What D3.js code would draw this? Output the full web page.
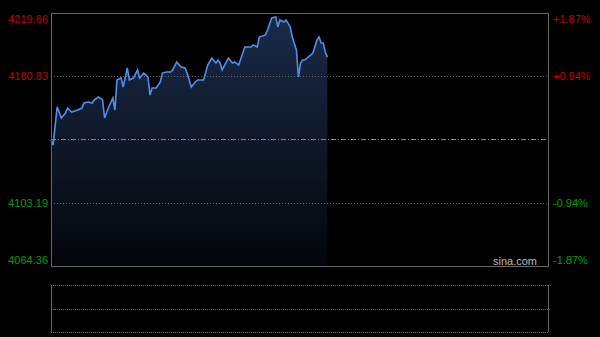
<!DOCTYPE html>
<html>
<head>
<meta charset="utf-8">
<script src="https://cdn.jsdelivr.net/npm/d3@7"></script>
<style>
  body { margin: 0; background: #000; }
  svg { display: block; font-family: "Liberation Sans", Arial, sans-serif; }
</style>
</head>
<body>
<script>
// chart size
var svgWidth = 600;
var svgHeight = 337;

// price panel and volume panel edges
var panel = { left: 51, right: 548, top: 13, bottom: 266 };
var volPanel = { top: 285, bottom: 332 };

// data: minute index since open and price
var minutes = [0, 1, 3, 5, 7, 8, 10, 13, 15, 16, 18, 20, 21, 23, 25, 26, 28, 30, 31, 32,
  34, 35, 37, 38, 40, 42, 43, 45, 47, 48, 49, 51, 53, 54, 56, 58, 59, 61, 63, 65,
  66, 68, 70, 71, 74, 76, 78, 80, 81, 82, 83, 86, 88, 89, 91, 93, 94, 97, 98, 100,
  101, 104, 105, 107, 109, 110, 111, 113, 114, 116, 117, 119, 120, 121, 122, 123, 126, 127, 129, 130,
  131, 132, 133, 134];
var prices = [4141.7, 4138.6, 4162.0, 4155.2, 4158.3, 4161.3, 4158.9, 4160.1, 4161.3, 4164.4,
  4165.0, 4164.4, 4166.3, 4168.1, 4166.3, 4155.2, 4162.0, 4167.5, 4160.1, 4178.5,
  4179.8, 4174.2, 4185.9, 4178.5, 4179.8, 4184.7, 4179.8, 4182.8, 4180.4, 4169.3,
  4173.6, 4173.6, 4177.3, 4182.8, 4183.4, 4183.4, 4184.7, 4189.6, 4186.5, 4185.9,
  4182.8, 4174.2, 4177.3, 4178.5, 4178.5, 4187.7, 4192.0, 4189.0, 4190.8, 4189.0,
  4184.7, 4192.0, 4189.0, 4189.6, 4187.7, 4195.1, 4198.8, 4198.8, 4200.0, 4198.8,
  4204.9, 4206.2, 4209.2, 4216.6, 4217.2, 4211.1, 4215.4, 4214.1, 4215.4, 4211.1,
  4204.9, 4197.0, 4180.4, 4189.0, 4190.8, 4190.8, 4193.9, 4195.1, 4203.1, 4204.9,
  4201.2, 4201.2, 4195.7, 4192.6];

// axis labels
var priceTicks = [4219.66, 4180.83, 4103.19, 4064.36];
var pctTicks = ["+1.87%", "+0.94%", "-0.94%", "-1.87%"];
var prevClose = 4142.01;
var totalMinutes = 241;

var data = minutes.map((m, i) => ({ m: m, p: prices[i] }));

var svg = d3.select("body")
  .append("svg")
  .attr("width", svgWidth)
  .attr("height", svgHeight);

var xScale = d3.scaleLinear()
  .domain([0, totalMinutes])
  .range([panel.left, panel.right]);

var yScale = d3.scaleLinear()
  .domain([priceTicks[3], priceTicks[0]])
  .range([panel.bottom, panel.top]);

// gradient under the line
var defs = svg.append("defs");
var grad = defs.append("linearGradient")
  .attr("id", "fillGrad")
  .attr("x1", 0).attr("y1", 0).attr("x2", 0).attr("y2", 1);
grad.append("stop").attr("offset", "0%").attr("stop-color", "#1a2a48");
grad.append("stop").attr("offset", "100%").attr("stop-color", "#03050a");

var area = d3.area()
  .x(d => xScale(d.m))
  .y0(panel.bottom)
  .y1(d => yScale(d.p));

svg.append("path")
  .datum(data)
  .attr("d", area)
  .attr("fill", "url(#fillGrad)");

// grid lines
svg.selectAll(".grid")
  .data([priceTicks[1], priceTicks[2]])
  .enter()
  .append("line")
  .attr("x1", panel.left).attr("x2", panel.right)
  .attr("y1", d => Math.round(yScale(d)) + 0.5)
  .attr("y2", d => Math.round(yScale(d)) + 0.5)
  .attr("stroke", "#666")
  .attr("stroke-dasharray", "1,2");

svg.append("line")
  .attr("x1", panel.left).attr("x2", panel.right)
  .attr("y1", Math.round(yScale(prevClose)) + 0.5)
  .attr("y2", Math.round(yScale(prevClose)) + 0.5)
  .attr("stroke", "#888")
  .attr("stroke-dasharray", "5,2,1,2");

// price line
var line = d3.line()
  .x(d => xScale(d.m))
  .y(d => yScale(d.p));

svg.append("path")
  .datum(data)
  .attr("d", line)
  .attr("fill", "none")
  .attr("stroke", "#4f90ee")
  .attr("stroke-width", 1.6);

// panel border
svg.append("rect")
  .attr("x", panel.left + 0.5)
  .attr("y", panel.top + 0.5)
  .attr("width", panel.right - panel.left)
  .attr("height", panel.bottom - panel.top)
  .attr("fill", "none")
  .attr("stroke", "#666");

// left price labels
var labelY = [yScale(priceTicks[0]) + 6, yScale(priceTicks[1]), yScale(priceTicks[2]), yScale(priceTicks[3]) - 6];
svg.selectAll(".plabel")
  .data(priceTicks)
  .enter()
  .append("text")
  .attr("x", 48)
  .attr("y", (d, i) => labelY[i])
  .attr("dy", "0.35em")
  .attr("text-anchor", "end")
  .attr("font-size", "11px")
  .attr("fill", (d, i) => i < 2 ? "#c80000" : "#00a000")
  .text(d => d.toFixed(2));

// right percent labels
svg.selectAll(".pctlabel")
  .data(pctTicks)
  .enter()
  .append("text")
  .attr("x", 553)
  .attr("y", (d, i) => labelY[i])
  .attr("dy", "0.35em")
  .attr("font-size", "11px")
  .attr("fill", (d, i) => i < 2 ? "#c80000" : "#00a000")
  .text(d => d);

svg.append("text")
  .attr("x", 537)
  .attr("y", 265)
  .attr("text-anchor", "end")
  .attr("font-size", "11px")
  .attr("fill", "#bbb")
  .text("sina.com");

// volume panel
var volMid = (volPanel.top + volPanel.bottom) / 2;
svg.selectAll(".vgrid")
  .data([volPanel.top, volMid, volPanel.bottom])
  .enter()
  .append("line")
  .attr("x1", panel.left).attr("x2", panel.right)
  .attr("y1", d => Math.round(d) + 0.5)
  .attr("y2", d => Math.round(d) + 0.5)
  .attr("stroke", "#777")
  .attr("stroke-dasharray", "1,1");

svg.selectAll(".vside")
  .data([panel.left, panel.right])
  .enter()
  .append("line")
  .attr("x1", d => d + 0.5).attr("x2", d => d + 0.5)
  .attr("y1", volPanel.top).attr("y2", volPanel.bottom)
  .attr("stroke", "#666");
</script>
</body>
</html>
